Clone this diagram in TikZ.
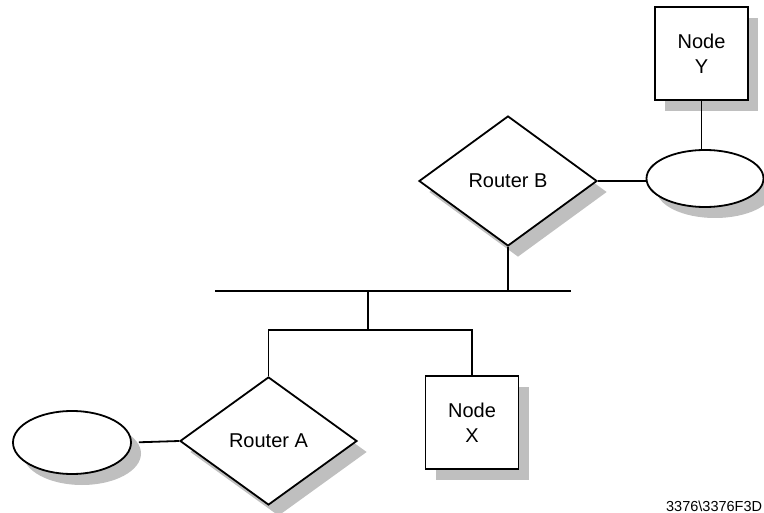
\documentclass[tikz,border=0pt]{standalone}
\usepackage{fontspec}
\setmainfont{Liberation Sans}
\usetikzlibrary{shapes.geometric,shadows}
\begin{document}
\begin{tikzpicture}[x=1pt,y=-1pt,line width=1.8pt,
  shad/.style={drop shadow={shadow xshift=10pt,shadow yshift=-11pt,fill=black!25,opacity=1}},
  lbl/.style={font=\fontsize{20}{25}\selectfont,align=center},
  boxnode/.style={draw,fill=white,shad,lbl,minimum width=93pt,minimum height=93pt,inner sep=0pt},
  router/.style={draw,fill=white,shad,lbl,diamond,inner sep=0pt,aspect=1.38},
  cloud/.style={draw,fill=white,shad,ellipse,inner sep=0pt}]
\useasboundingbox (0,0) rectangle (764,513);
% nodes
\node[boxnode] (NY) at (701.5,53.5) {Node\\Y};
\node[cloud,minimum width=117pt,minimum height=57pt] (EY) at (705,178.5) {};
\node[router,minimum width=178pt,minimum height=130pt] (RB) at (508,181) {Router B};
\node[router,minimum width=177pt,minimum height=128pt] (RA) at (268.5,441) {Router A};
\node[cloud,minimum width=118pt,minimum height=63pt] (EA) at (72,442.5) {};
\node[boxnode] (NX) at (472,422.5) {Node\\X};
% bus
\coordinate (busL) at (215,291);
\coordinate (busR) at (571,291);
\coordinate (jt) at (368,291);
\coordinate (jb) at (368,330);
\draw (busL) -- (busR);
\draw (RB.south) -- (RB.south |- busL);
\draw (jt) -- (jb);
\draw (RA.north) |- (jb) -| (NX.north);
\draw (NY.south) -- (NY.south |- EY.north);
\draw (RB.east) -- (RB.east -| EY.west);
\draw[shorten <=7pt] (EA.east) -- (RA.west);
\node[anchor=base east,inner sep=0pt,font=\fontsize{14.5}{17}\selectfont] (ref) at (763,511) {3376\textbackslash 3376F3D};
\end{tikzpicture}
\end{document}
